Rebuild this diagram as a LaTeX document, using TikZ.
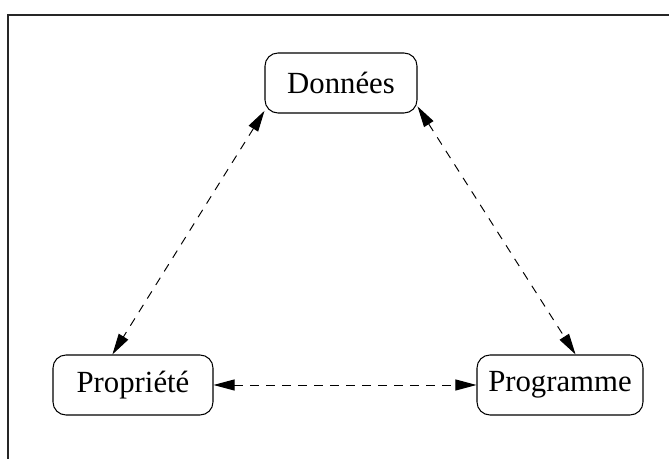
\documentclass[tikz,border=0pt]{standalone}
\usepackage{fontspec}
\setmainfont{Liberation Serif}
\usetikzlibrary{arrows.meta}

\begin{document}
\begin{tikzpicture}
    \tikzstyle{entity}=[rectangle, rounded corners=0.26cm, draw, line width=0.6pt, minimum height=1.2cm, inner sep=0pt, font=\fontsize{17.5}{20}\selectfont]
    \tikzstyle{link}=[line width=0.55pt, dash pattern=on 0.17cm off 0.15cm, {Triangle[length=0.42cm,width=0.22cm]}-{Triangle[length=0.42cm,width=0.22cm]}]

    \useasboundingbox (0,0) rectangle (13.38,9.18);
    \draw[line width=1.4pt, black!85] (0.16,0) -- (0.16,8.88) -- (13.38,8.88);

    \node[entity, minimum width=3.04cm] (D) at (6.82,7.52) {Données};
    \node[entity, minimum width=3.2cm] (P) at (2.66,1.48) {Propriété};
    \node[entity, minimum width=3.32cm] (G) at (11.2,1.48) {Programme};

    \draw[link] (D.200) -- (P.124);
    \draw[link] (D.-17) -- (G.63);
    \draw[link] (P.east) -- (G.west);
\end{tikzpicture}
\end{document}
